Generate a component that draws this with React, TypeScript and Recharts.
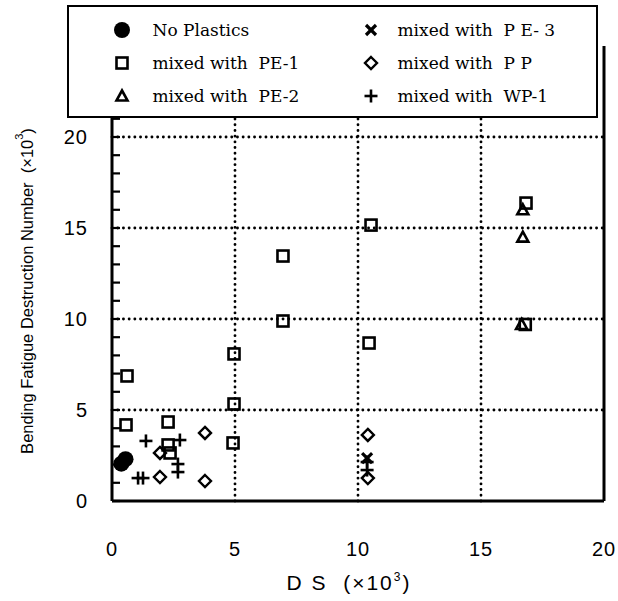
import React from "react";
import {
  ScatterChart,
  Scatter,
  XAxis,
  YAxis,
  ReferenceLine,
  Legend,
} from "recharts";

// [DS (x10^3), bending fatigue destruction number (x10^3)]
const noPlastics: [number, number][] = [
  [0.38, 2.05],
  [0.55, 2.3],
];
const pe1: [number, number][] = [
  [0.61, 6.87], [0.57, 4.18], [2.28, 4.34], [2.28, 3.08], [2.36, 2.64],
  [4.92, 3.19], [4.96, 5.33], [4.96, 8.08], [6.95, 9.89], [6.95, 13.46],
  [10.45, 8.68], [10.53, 15.16], [16.83, 16.37], [16.8, 9.7],
];
const pe2: [number, number][] = [
  [16.7, 16.0], [16.7, 14.5], [16.65, 9.7],
];
const pe3: [number, number][] = [[10.37, 2.36]];
const pp: [number, number][] = [
  [1.95, 2.64], [1.95, 1.32], [3.78, 3.74], [3.78, 1.1], [10.4, 3.63], [10.4, 1.26],
];
const wp1: [number, number][] = [
  [1.38, 3.3], [2.76, 3.35], [2.68, 2.03], [2.68, 1.59], [1.26, 1.26],
  [1.06, 1.26], [10.37, 2.14], [10.37, 1.7],
];

const xTicks = [0, 5, 10, 15, 20];
const yLabelTicks = [0, 5, 10, 15, 20];
const yMinorTicks = [0, 1, 2, 3, 4, 5, 6, 7, 8, 9, 10, 11, 12, 13, 14, 15, 16, 17, 18, 19, 20, 21, 22, 23, 24, 25];
const xGrid = [5, 10, 15];
const yGrid = [5, 10, 15, 20];

const toPoints = (arr: [number, number][]) => arr.map(([x, y]) => ({ x, y }));

type Kind = "circle" | "square" | "triangle" | "cross" | "diamond" | "plus";

// legend entries, two columns x three rows
const legendItems: { kind: Kind; label: string; col: number; row: number }[] = [
  { kind: "circle", label: "No Plastics", col: 0, row: 0 },
  { kind: "cross", label: "mixed with  P E- 3", col: 1, row: 0 },
  { kind: "square", label: "mixed with  PE-1", col: 0, row: 1 },
  { kind: "diamond", label: "mixed with  P P", col: 1, row: 1 },
  { kind: "triangle", label: "mixed with  PE-2", col: 0, row: 2 },
  { kind: "plus", label: "mixed with  WP-1", col: 1, row: 2 },
];

function Marker({ kind, cx, cy }: { kind: Kind; cx: number; cy: number }) {
  const sw = 2.6;
  switch (kind) {
    case "circle":
      return <circle cx={cx} cy={cy} r={8} fill="#000" />;
    case "square":
      return (
        <rect x={cx - 5.5} y={cy - 5.5} width={11} height={11} fill="none" stroke="#000" strokeWidth={sw} />
      );
    case "triangle":
      return (
        <polygon
          points={`${cx},${cy - 5.5} ${cx + 5.5},${cy + 4.5} ${cx - 5.5},${cy + 4.5}`}
          fill="none"
          stroke="#000"
          strokeWidth={sw}
        />
      );
    case "cross":
      return (
        <g stroke="#000" strokeWidth={3.2}>
          <line x1={cx - 5} y1={cy - 5} x2={cx + 5} y2={cy + 5} />
          <line x1={cx - 5} y1={cy + 5} x2={cx + 5} y2={cy - 5} />
        </g>
      );
    case "diamond":
      return (
        <polygon
          points={`${cx},${cy - 6} ${cx + 6},${cy} ${cx},${cy + 6} ${cx - 6},${cy}`}
          fill="none"
          stroke="#000"
          strokeWidth={2.4}
        />
      );
    case "plus":
      return (
        <g stroke="#000" strokeWidth={2.6}>
          <line x1={cx - 6.5} y1={cy} x2={cx + 6.5} y2={cy} />
          <line x1={cx} y1={cy - 6.5} x2={cx} y2={cy + 6.5} />
        </g>
      );
  }
  return null;
}

const shapeOf = (kind: Kind) => (props: any) =>
  <Marker kind={kind} cx={props.cx} cy={props.cy} />;

const LABEL_GAP = 24;

// left axis: label every 5, inward tick every 1
function LeftTick(props: any) {
  const { x, y, payload } = props;
  const v = payload.value as number;
  const axisX = x + LABEL_GAP;
  return (
    <g>
      <line x1={axisX} y1={y} x2={axisX + 8} y2={y} stroke="#000" strokeWidth={2.2} />
      {yLabelTicks.includes(v) && (
        <text
          x={x}
          y={y}
          dy="0.355em"
          textAnchor="end"
          fill="#000"
          fontSize={20}
          fontFamily="'Liberation Sans', Arial, sans-serif"
          letterSpacing={1}
        >
          {v}
        </text>
      )}
    </g>
  );
}

// right frame: inward tick every 1, no label
function RightTick(props: any) {
  const { x, y } = props;
  return <line x1={x - 7} y1={y} x2={x} y2={y} stroke="#000" strokeWidth={2.2} />;
}

function LegendBox() {
  const markerX = [55, 304];
  const textX = [86, 331];
  const rowY = [25, 58, 91];
  return (
    <div
      style={{
        position: "relative",
        boxSizing: "border-box",
        width: 531,
        height: 113,
        border: "2.5px solid #000",
        background: "#fff",
        fontFamily: "'DejaVu Serif', serif",
        fontSize: 17,
        color: "#000",
      }}
    >
      {legendItems.map((it, i) => (
        <React.Fragment key={i}>
          <svg
            width={20}
            height={20}
            style={{ position: "absolute", left: markerX[it.col] - 12.5, top: rowY[it.row] - 12.5 }}
          >
            <Marker kind={it.kind} cx={10} cy={10} />
          </svg>
          <span
            style={{
              position: "absolute",
              left: textX[it.col] - 2.5,
              top: rowY[it.row] - 2.5 - 12,
              lineHeight: "24px",
              whiteSpace: "pre",
            }}
          >
            {it.label}
          </span>
        </React.Fragment>
      ))}
    </div>
  );
}

function YLabel() {
  return (
    <text
      x={27}
      y={291}
      transform="rotate(-90 27 291)"
      textAnchor="middle"
      dominantBaseline="central"
      fontFamily="'Liberation Sans', Arial, sans-serif"
      fontSize={16.5}
      fill="#000"
      style={{ whiteSpace: "pre" }}
    >
      {"Bending Fatigue Destruction Number  (×10"}
      <tspan dy={-8} fontSize={11}>3</tspan>
      <tspan dy={8}>)</tspan>
    </text>
  );
}

function XLabel() {
  return (
    <text
      x={349}
      y={590}
      textAnchor="middle"
      fontFamily="'Liberation Sans', Arial, sans-serif"
      fontSize={21}
      letterSpacing={2}
      fill="#000"
      style={{ whiteSpace: "pre" }}
    >
      {"D S  (×10"}
      <tspan dy={-9} fontSize={12}>3</tspan>
      <tspan dy={9}>)</tspan>
    </text>
  );
}

const dotted = {
  stroke: "#000",
  strokeWidth: 2.8,
  strokeDasharray: "0.1 5.6",
  strokeLinecap: "round" as const,
};

const tickFont = {
  fill: "#000",
  fontSize: 20,
  fontFamily: "'Liberation Sans', Arial, sans-serif",
  letterSpacing: 1,
};

export default function App() {
  return (
    <div style={{ width: 618, height: 601 }}>
      <style>{`body{margin:0;}`}</style>
      <ScatterChart
        width={618}
        height={601}
        margin={{ top: 46, right: 14, bottom: 0, left: 0 }}
      >
        <XAxis
          type="number"
          dataKey="x"
          domain={[0, 20]}
          ticks={xTicks}
          interval={0}
          tickLine={false}
          tickSize={0}
          tickMargin={41}
          height={100}
          axisLine={{ stroke: "#000", strokeWidth: 3 }}
          tick={tickFont}
          allowDataOverflow
          label={<XLabel />}
        />
        <YAxis
          type="number"
          dataKey="y"
          domain={[0, 25]}
          ticks={yMinorTicks}
          interval={0}
          width={112}
          tickSize={0}
          tickMargin={LABEL_GAP}
          tickLine={false}
          axisLine={{ stroke: "#000", strokeWidth: 3 }}
          tick={<LeftTick />}
          allowDataOverflow
          label={<YLabel />}
        />
        <YAxis
          yAxisId="rightFrame"
          orientation="right"
          mirror
          type="number"
          domain={[0, 25]}
          ticks={yMinorTicks}
          interval={0}
          width={1}
          tickSize={0}
          tickMargin={0}
          tickLine={false}
          tick={<RightTick />}
          axisLine={{ stroke: "#000", strokeWidth: 3 }}
        />
        {yGrid.map((v) => (
          <ReferenceLine key={`h${v}`} y={v} {...dotted} />
        ))}
        {xGrid.map((v) => (
          <ReferenceLine key={`v${v}`} x={v} {...dotted} />
        ))}
        <Scatter name="No Plastics" data={toPoints(noPlastics)} shape={shapeOf("circle")} isAnimationActive={false} />
        <Scatter name="PE-1" data={toPoints(pe1)} shape={shapeOf("square")} isAnimationActive={false} />
        <Scatter name="PE-2" data={toPoints(pe2)} shape={shapeOf("triangle")} isAnimationActive={false} />
        <Scatter name="PE-3" data={toPoints(pe3)} shape={shapeOf("cross")} isAnimationActive={false} />
        <Scatter name="PP" data={toPoints(pp)} shape={shapeOf("diamond")} isAnimationActive={false} />
        <Scatter name="WP-1" data={toPoints(wp1)} shape={shapeOf("plus")} isAnimationActive={false} />
        <Legend
          layout="vertical"
          align="center"
          verticalAlign="middle"
          wrapperStyle={{ top: 5, left: 67, width: 531, height: 113 }}
          content={() => <LegendBox />}
        />
      </ScatterChart>
    </div>
  );
}
